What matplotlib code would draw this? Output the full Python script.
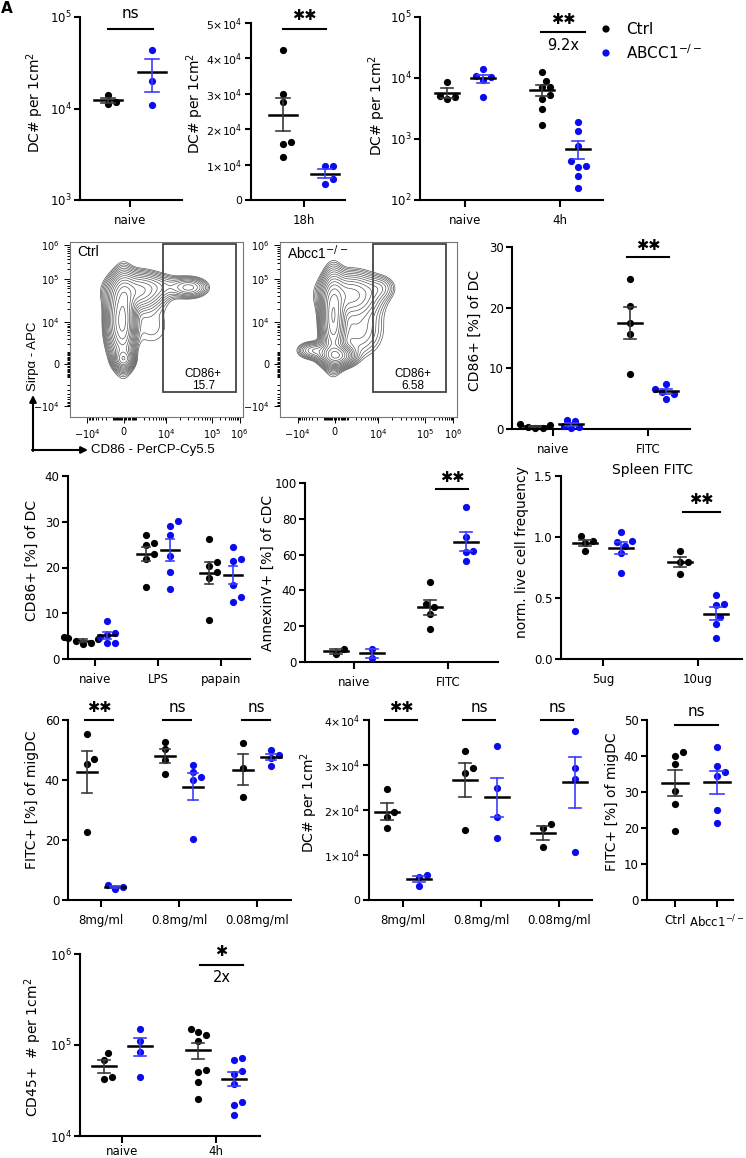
#!/usr/bin/env python3
# Multi-panel DC / Abcc1 figure: dot plots (mean +/- SEM), two flow contour
# plots with a CD86+ gate, significance bars.
import numpy as np
import matplotlib
matplotlib.use("Agg")
import matplotlib.pyplot as plt
from matplotlib.patches import Rectangle

# ---------------- data ----------------
A1_CTRL = [13960, 11330, 11700]
A1_KO = [43700, 20100, 10800]
A2_CTRL = [42400, 29900, 27800, 16300, 15700, 12200]
A2_KO = [9700, 9700, 4400, 5900]
A3_CATS = ["naive", "4h"]
A3_CTRL = [[8700, 4560, 5000, 4800], [12660, 9040, 7060, 7060, 5290, 4560, 3140, 1680]]
A3_KO = [[13800, 10800, 10500, 9300, 4850], [1875, 1374, 780, 355, 433, 347, 245, 158]]

CD86_CATS = ["naive", "FITC"]
CD86_CTRL = [[0.8, 0.3, 0.7, 0.2, 0.1], [24.8, 20.3, 17.5, 15.6, 9.0]]
CD86_KO = [[1.3, 1.5, 0.5, 0.3, 0.2], [6.6, 7.5, 6.1, 5.0, 5.8]]

STIM_CATS = ["naive", "LPS", "papain"]
STIM_CTRL = [[4.7, 4.3, 4.0, 3.5, 3.2, 4.5], [27.0, 25.3, 24.9, 23.0, 21.8, 15.7],
             [26.2, 21.3, 20.3, 19.0, 17.8, 8.5]]
STIM_KO = [[8.4, 5.6, 5.2, 4.8, 3.6, 3.5], [30.1, 29.1, 27.1, 22.6, 19.0, 15.4],
           [24.4, 21.8, 21.5, 16.2, 12.5, 13.6]]

ANX_CATS = ["naive", "FITC"]
ANX_CTRL = [[4.5, 7.4], [44.9, 30.5, 32.4, 26.8, 18.4]]
ANX_KO = [[7.3, 2.4], [86.8, 69.7, 62.0, 61.6, 56.4]]

SPL_CATS = ["5ug", "10ug"]
SPL_CTRL = [[1.008, 0.967, 0.953, 0.888], [0.888, 0.798, 0.798, 0.697]]
SPL_KO = [[1.038, 0.967, 0.962, 0.93, 0.872, 0.702], [0.525, 0.451, 0.443, 0.347, 0.29, 0.17]]

DOSE_CATS = ["8mg/ml", "0.8mg/ml", "0.08mg/ml"]
FITC_CTRL = [[55.3, 47.0, 45.2, 22.8], [50.2, 52.6, 46.7, 41.9], [52.4, 43.9, 34.2]]
FITC_KO = [[3.7, 5.0, 4.2], [45.0, 42.6, 41.1, 40.0, 20.3], [50.0, 48.3, 47.5, 44.7]]
DCN_CTRL = [[24700, 19600, 18400, 15900], [33100, 29400, 28300, 15600], [16900, 15900, 11800]]
DCN_KO = [[5560, 5190, 3190], [34200, 24800, 18400, 13800], [37600, 29400, 27000, 10600]]

MIG_CATS = ["Ctrl", "Abcc1$^{-/-}$"]
MIG_CTRL = [40.1, 41.0, 37.8, 30.3, 26.7, 19.2]
MIG_KO = [42.6, 37.2, 34.4, 35.6, 25.0, 21.3]

CD45_CATS = ["naive", "4h"]
CD45_CTRL = [[81100, 67900, 41900, 44500],
             [139000, 151000, 128800, 110600, 50500, 52700, 39500, 25700]]
CD45_KO = [[150000, 110600, 84400, 44500],
           [67900, 72500, 48400, 51800, 37600, 23700, 21800, 16900]]

# flow contour populations: (x, y, sx, sy, weight) in axes fractions
FLOW_CTRL = [(0.31, 0.55, 0.035, 0.13, 1.0), (0.31, 0.33, 0.03, 0.03, 0.6),
             (0.26, 0.55, 0.035, 0.11, 0.4), (0.38, 0.72, 0.09, 0.06, 0.45),
             (0.53, 0.75, 0.08, 0.04, 0.1), (0.69, 0.74, 0.06, 0.033, 0.28),
             (0.47, 0.52, 0.09, 0.10, 0.06)]
FLOW_KO = [(0.30, 0.56, 0.035, 0.13, 1.0), (0.32, 0.35, 0.05, 0.033, 0.9),
           (0.19, 0.38, 0.05, 0.028, 0.25), (0.40, 0.70, 0.095, 0.07, 0.45),
           (0.57, 0.74, 0.05, 0.04, 0.1), (0.44, 0.50, 0.09, 0.10, 0.15)]

BLUE = "#0b0bf0"
CERR = "#3a3a3a"
KERR = "#3c3cff"
STAR = "\u2731\u2731"

W, H = 746, 1158
plt.rcParams["font.family"] = ["DejaVu Sans"]
fig = plt.figure(figsize=(W / 100, H / 100), dpi=100)


def axes_px(l, t, r, b, **kw):
    return fig.add_axes([l / W, 1 - b / H, (r - l) / W, (b - t) / H], **kw)


def swarm(ax, xc, vals, d=7.5):
    tr = ax.transData
    inv = tr.inverted()
    cx = tr.transform((xc, vals[0]))[0]
    placed = []
    for v in sorted(vals):
        yp = tr.transform((xc, v))[1]
        for k in [0, 1, -1, 2, -2, 3, -3, 4, -4, 5, -5]:
            xp = cx + k * d / 2
            if all((xp - a) ** 2 + (yp - b) ** 2 >= (0.95 * d) ** 2 for a, b in placed):
                break
        placed.append((xp, yp))
    xs = [inv.transform(p)[0] for p in placed]
    ys = sorted(vals)
    return xs, ys


def dot_panel(box, ticks_px, cats, groups, ylim, yticks, ylabels, log=False,
              off=18, mw=12, cw=6, ysize=8.5, xpad=5):
    l, t, r, b = box
    ax = axes_px(l, t, r, b)
    s = ticks_px[1] - ticks_px[0] if len(ticks_px) > 1 else 100.0
    ax.set_xlim((l - ticks_px[0]) / s, (r - ticks_px[0]) / s)
    if log:
        ax.set_yscale("log")
    ax.set_ylim(*ylim)
    ax.set_yticks(yticks)
    ax.set_yticklabels(ylabels)
    ax.minorticks_off()
    ax.set_xticks(range(len(cats)))
    ax.set_xticklabels(cats)
    for sp in ("top", "right"):
        ax.spines[sp].set_visible(False)
    for sp in ("left", "bottom"):
        ax.spines[sp].set_linewidth(1.5)
    ax.tick_params(axis="both", width=1.5, labelsize=8.5, colors="k")
    ax.tick_params(axis="x", length=5, pad=xpad)
    ax.tick_params(axis="y", length=4, pad=2, labelsize=ysize)
    for vals, sign, col, ecol in groups:
        for i, v in enumerate(vals):
            if v is None:
                continue
            xc = i + sign * off / s
            xs, ys = swarm(ax, xc, v)
            ax.scatter(xs, ys, s=27, color=col, lw=0, zorder=3, clip_on=False)
            m = np.mean(v)
            se = np.std(v, ddof=1) / np.sqrt(len(v))
            ax.plot([xc - mw / s, xc + mw / s], [m, m], color="k", lw=1.8, zorder=4)
            ax.plot([xc, xc], [m - se, m + se], color=ecol, lw=1.2, zorder=4)
            for yy in (m - se, m + se):
                ax.plot([xc - cw / s, xc + cw / s], [yy, yy], color=ecol, lw=1.2, zorder=4)
    return ax


def two(ctrl, ko):
    return [(ctrl, -1, "k", CERR), (ko, 1, BLUE, KERR)]


def log_labels(lo, hi):
    return [10.0 ** e for e in range(lo, hi + 1)], [f"$10^{{{e}}}$" for e in range(lo, hi + 1)]


def sci_labels(n):
    return [i * 1e4 for i in range(n + 1)], ["0"] + [f"${i}{{\\times}}10^4$" for i in range(1, n + 1)]


# ---------------- row 1 ----------------
yt, yl = log_labels(3, 5)
dot_panel((80, 17, 182, 200), [130], ["naive"], two([A1_CTRL], [A1_KO]),
          (1e3, 1e5), yt, yl, log=True, off=22, mw=14, cw=7)
yt, yl = sci_labels(5)
dot_panel((251, 23, 345, 200), [304], ["18h"], two([A2_CTRL], [A2_KO]),
          (0, 5e4), yt, yl, off=21, mw=14, cw=7, ysize=7.8)
yt, yl = log_labels(2, 5)
dot_panel((420, 17, 603, 200), [465, 560], A3_CATS, two(A3_CTRL, A3_KO),
          (1e2, 1e5), yt, yl, log=True, off=18, mw=12, cw=6)

# ---------------- row 2: flow plots ----------------
def flow_minor(p_neg, p0, p4, p5, p6):
    c = 1000.0
    lin = [100 * k for k in range(1, 10)] + [1000 * k for k in range(1, 10)]
    a = np.arcsinh(1e4 / c)
    out = [p0 + (p4 - p0) * np.arcsinh(v / c) / a for v in lin]
    out += [p0 - (p0 - p_neg) * np.arcsinh(v / c) / a for v in lin]
    out += [p4 + (p5 - p4) * np.log10(k) for k in range(2, 10)]
    out += [p5 + (p6 - p5) * np.log10(k) for k in range(2, 10)]
    return out


XMAJ = [0.10, 0.31, 0.555, 0.82, 0.98]
YMAJ = [0.06, 0.30, 0.54, 0.79, 0.98]
MAJ_LBL = ["$-10^4$", "0", "$10^4$", "$10^5$", "$10^6$"]


def flow_panel(box, comps, name, pct, gate):
    ax = axes_px(*box)
    ax.set_xlim(0, 1)
    ax.set_ylim(0, 1)
    g = np.linspace(0, 1, 260)
    gx, gy = np.meshgrid(g, g)
    z = np.zeros_like(gx)
    for cx, cy, sx, sy, w in comps:
        z += w * np.exp(-0.5 * (((gx - cx) / sx) ** 2 + ((gy - cy) / sy) ** 2))
    levels = z.max() * np.logspace(-1.45, -0.05, 15)
    ax.contour(gx, gy, z, levels=levels, colors="#555555", linewidths=0.5)
    x0, x1, y0, y1 = gate
    ax.add_patch(Rectangle((x0, y0), x1 - x0, y1 - y0, fill=False, ec="#444444", lw=1.3))
    ax.text(0.04, 0.94, name, fontsize=10, family="Liberation Sans", va="center")
    ax.text((x0 + x1) / 2 + 0.02, 0.21, f"CD86+\n{pct}", fontsize=8.5,
            family="Liberation Sans", ha="center", va="center", linespacing=0.95)
    ax.set_xticks(XMAJ)
    ax.set_xticklabels(MAJ_LBL)
    ax.set_yticks(YMAJ)
    ax.set_yticklabels(MAJ_LBL)
    ax.set_xticks(flow_minor(*XMAJ), minor=True)
    ax.set_yticks(flow_minor(*YMAJ), minor=True)
    for sp in ax.spines.values():
        sp.set_color("#777777")
        sp.set_linewidth(0.8)
    ax.tick_params(which="both", labelsize=7, width=0.7, direction="out")
    ax.tick_params(which="major", length=4)
    ax.tick_params(which="minor", length=2.2)
    return ax


flow_panel((70, 242, 243, 417), FLOW_CTRL, "Ctrl", "15.7", (0.54, 0.96, 0.14, 0.99))
flow_panel((280, 242, 457, 417), FLOW_KO, "Abcc1$^{-/-}$", "6.58", (0.525, 0.94, 0.14, 0.99))

dot_panel((512, 247, 690, 429), [553, 648], CD86_CATS, two(CD86_CTRL, CD86_KO),
          (0, 30), [0, 10, 20, 30], ["0", "10", "20", "30"], off=18, mw=12, cw=6)

# ---------------- row 3 ----------------
dot_panel((68, 476, 250, 659), [95, 158, 221], STIM_CATS, two(STIM_CTRL, STIM_KO),
          (0, 40), [0, 10, 20, 30, 40], ["0", "10", "20", "30", "40"], off=12, mw=9, cw=4)
dot_panel((305, 483, 498, 662), [354, 448], ANX_CATS, two(ANX_CTRL, ANX_KO),
          (0, 100), [0, 20, 40, 60, 80, 100], ["0", "20", "40", "60", "80", "100"],
          off=18, mw=12, cw=6)
dot_panel((561, 476, 742, 659), [603, 698], SPL_CATS, two(SPL_CTRL, SPL_KO),
          (0, 1.5), [0, 0.5, 1.0, 1.5], ["0.0", "0.5", "1.0", "1.5"], off=18, mw=12, cw=6)

# ---------------- row 4 ----------------
dot_panel((68, 720, 291, 900), [101, 179, 258], DOSE_CATS, two(FITC_CTRL, FITC_KO),
          (0, 60), [0, 20, 40, 60], ["0", "20", "40", "60"], off=14, mw=10, cw=5)
yt, yl = sci_labels(4)
dot_panel((369, 720, 592, 900), [403, 481, 559], DOSE_CATS, two(DCN_CTRL, DCN_KO),
          (0, 4e4), yt, yl, off=16, mw=12, cw=6, ysize=7.8)
dot_panel((647, 720, 733, 900), [675, 717], MIG_CATS,
          [([MIG_CTRL, None], 0, "k", CERR), ([None, MIG_KO], 0, BLUE, KERR)],
          (0, 50), [0, 10, 20, 30, 40, 50], ["0", "10", "20", "30", "40", "50"],
          off=0, mw=13, cw=7)

# ---------------- row 5 ----------------
yt, yl = log_labels(4, 6)
dot_panel((80, 954, 260, 1136), [122, 216], CD45_CATS, two(CD45_CTRL, CD45_KO),
          (1e4, 1e6), yt, yl, log=True, off=18, mw=12, cw=6, xpad=1.5)

# ---------------- overlay: labels, significance, legend ----------------
ov = axes_px(0, 0, W, H, zorder=10)
ov.set_xlim(0, W)
ov.set_ylim(H, 0)
ov.axis("off")
ov.patch.set_alpha(0)


def ylab(x, y, txt):
    ov.text(x, y, txt, rotation=90, ha="center", va="center", fontsize=10)


ylab(35, 102, "DC# per 1cm$^2$")
ylab(195, 103, "DC# per 1cm$^2$")
ylab(377, 105, "DC# per 1cm$^2$")
ylab(475, 330, "CD86+ [%] of DC")
ylab(32, 560, "CD86+ [%] of DC")
ylab(268, 573, "AnnexinV+ [%] of cDC")
ylab(522, 552, "norm. live cell frequency")
ylab(32, 800, "FITC+ [%] of migDC")
ylab(309, 802, "DC# per 1cm$^2$")
ylab(612, 802, "FITC+ [%] of migDC")
ylab(33, 1047, "CD45+  # per 1cm$^2$")


def sig(x0, x1, yline, label, ytext, sub=None, ysub=None):
    ov.plot([x0, x1], [yline, yline], color="k", lw=1.5)
    if label == STAR or label == "\u2731":
        ov.text((x0 + x1) / 2, ytext, label, ha="center", va="center", fontsize=10.5)
    else:
        ov.text((x0 + x1) / 2, ytext, label, ha="center", va="center", fontsize=11)
    if sub:
        ov.text((x0 + x1) / 2, ysub, sub, ha="center", va="center", fontsize=10.5)


sig(108, 153, 29, "ns", 14)
sig(283, 326, 29, STAR, 15)
sig(541, 585, 32, STAR, 20, "9.2x", 45)
sig(627, 669, 257, STAR, 245)
sig(436, 468, 489, STAR, 477)
sig(683, 720, 512, STAR, 500)
for c in (101, 179, 258):
    lab = STAR if c == 101 else "ns"
    sig(c - 16, c + 12, 720, lab, 707)
for c in (403, 481, 559):
    lab = STAR if c == 403 else "ns"
    sig(c - 18, c + 14, 720, lab, 707)
sig(675, 718, 725, "ns", 711)
sig(200, 243, 965, "\u2731", 952, "2x", 977)

ov.text(653, 470, "Spleen FITC", ha="center", va="center", fontsize=10)

# legend
ov.scatter([606, 606], [29, 53], s=27, color=["k", BLUE], lw=0)
ov.text(626, 29, "Ctrl", va="center", fontsize=11)
ov.text(626, 53, "ABCC1$^{-/-}$", va="center", fontsize=11)

# flow axis arrows
ov.annotate("", xy=(33, 395), xytext=(33, 451),
            arrowprops=dict(arrowstyle="-|>", lw=1.5, color="k", mutation_scale=10,
                            shrinkA=0, shrinkB=0))
ov.annotate("", xy=(88, 450), xytext=(32, 450),
            arrowprops=dict(arrowstyle="-|>", lw=1.5, color="k", mutation_scale=10,
                            shrinkA=0, shrinkB=0))
ov.text(33, 391, "Sirp\u03b1 - APC", rotation=90, ha="left", va="center",
        rotation_mode="anchor", fontsize=9.5, family="Liberation Sans")
ov.text(91, 450, "CD86 - PerCP-Cy5.5", ha="left", va="center", fontsize=9.5,
        family="Liberation Sans")

ov.text(1, 1, "A", ha="left", va="top", fontsize=11, fontweight="bold")

fig.savefig("out.png", dpi=100)
